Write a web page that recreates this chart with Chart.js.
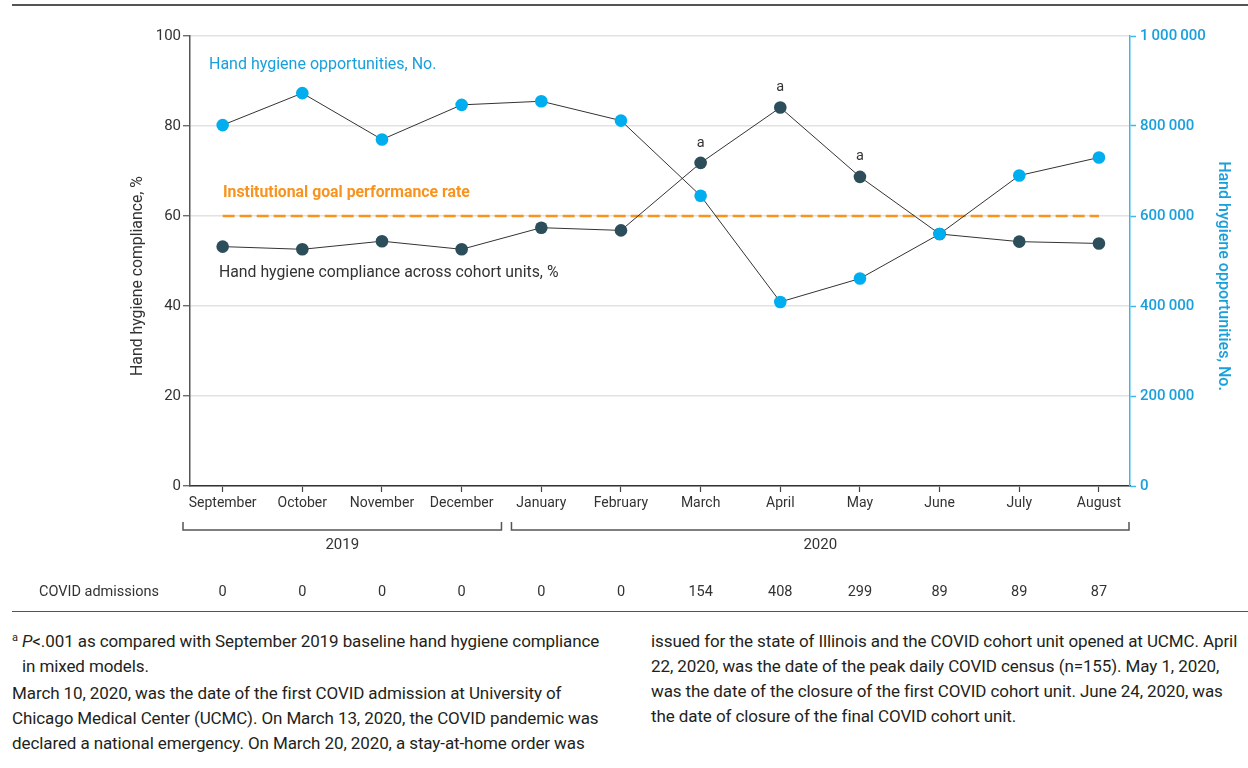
<!DOCTYPE html>
<html>
<head>
<meta charset="utf-8">
<script src="https://cdn.jsdelivr.net/npm/chart.js@4/dist/chart.umd.min.js"></script>
<style>
  html, body { margin: 0; padding: 0; background: #fff; }
  #wrap { position: relative; width: 1248px; height: 768px; overflow: hidden; }
  #c { position: absolute; left: 0; top: 0; }
  .rule { position: absolute; left: 12px; right: 0; height: 0; border-top: 2px solid #555; }
  .note { position: absolute; font-family: Roboto, sans-serif; font-size: 17px; color: #231f20;
          line-height: 25px; white-space: nowrap; letter-spacing: -0.1px; }
  .note sup { font-size: 11px; vertical-align: 6px; line-height: 0; }
  .note p { margin: 0; }
</style>
</head>
<body>
<div id="wrap">
  <canvas id="c" width="1248" height="612"></canvas>
  <div class="rule" style="top:4px"></div>
  <div class="rule" style="top:611px; border-top-width:1.5px"></div>
  <div class="note" style="left:12px; top:629px">
    <p><sup>a</sup> <i>P</i>&lt;.001 as compared with September 2019 baseline hand hygiene compliance</p>
    <p style="padding-left:10px">in mixed models.</p>
    <p style="margin-top:2px">March 10, 2020, was the date of the first COVID admission at University of</p>
    <p>Chicago Medical Center (UCMC). On March 13, 2020, the COVID pandemic was</p>
    <p>declared a national emergency. On March 20, 2020, a stay-at-home order was</p>
  </div>
  <div class="note" style="left:651px; top:629px">
    <p>issued for the state of Illinois and the COVID cohort unit opened at UCMC. April</p>
    <p>22, 2020, was the date of the peak daily COVID census (n=155). May 1, 2020,</p>
    <p>was the date of the closure of the first COVID cohort unit. June 24, 2020, was</p>
    <p>the date of closure of the final COVID cohort unit.</p>
  </div>
</div>
<script>
// Monthly categories, September 2019 through August 2020
const months = ['September', 'October', 'November', 'December', 'January', 'February',
                'March', 'April', 'May', 'June', 'July', 'August'];

// Hand hygiene compliance across cohort units, %
const complianceRate = [53.2, 52.6, 54.4, 52.6, 57.4, 56.8, 71.8, 84.1, 68.7, 56.0, 54.3, 53.9];

// Hand hygiene opportunities, No.
const opportunities = [802000, 873000, 770000, 847000, 855000, 812000,
                       645000, 409000, 461000, 560000, 690000, 730000];

// Institutional goal performance rate, %
const goalRate = 60;

// COVID admissions per month
const covidAdmissions = [0, 0, 0, 0, 0, 0, 154, 408, 299, 89, 89, 87];

// Months flagged with footnote a (P<.001 vs September 2019 baseline)
const significantMonths = ['March', 'April', 'May'];

// Year groupings under the month axis
const yearLabels = ['2019', '2020'];
const yearFirstMonth = [0, 4];
const yearLastMonth = [3, 11];

// Axis tick values
const complianceTicks = [0, 20, 40, 60, 80, 100];
const opportunityTicks = [0, 200000, 400000, 600000, 800000, 1000000];

const FONT = 'Roboto, "Noto Sans", sans-serif';
const DARK_TEXT = '#333333';
const BLUE_TEXT = '#19a0dc';
const BLUE_AXIS = '#3bb9e9';
const ORANGE = '#f7931e';

const toPoints = vals => vals.map((v, i) => ({ x: i, y: v }));
const groupThousands = v => Math.round(v).toString().replace(/\B(?=(\d{3})+(?!\d))/g, '\u2009');

const annotations = {
  id: 'annotations',
  afterDatasetsDraw(chart) {
    const { ctx, chartArea, scales } = chart;
    const xs = scales.x, ys = scales.y;
    ctx.save();

    // Series labels inside the plot
    ctx.textBaseline = 'middle';
    ctx.textAlign = 'left';
    ctx.font = `16px ${FONT}`;
    ctx.fillStyle = BLUE_TEXT;
    ctx.fillText('Hand hygiene opportunities, No.', 209, 65);
    ctx.font = `bold 15.8px ${FONT}`;
    ctx.fillStyle = ORANGE;
    ctx.fillText('Institutional goal performance rate', 223, 193);
    ctx.font = `15.8px ${FONT}`;
    ctx.fillStyle = DARK_TEXT;
    ctx.fillText('Hand hygiene compliance across cohort units, %', 219, 273);

    // Footnote markers above the significant compliance points
    ctx.textAlign = 'center';
    ctx.font = `14.5px ${FONT}`;
    significantMonths.forEach(m => {
      const i = months.indexOf(m);
      ctx.fillText('a', xs.getPixelForValue(i), ys.getPixelForValue(complianceRate[i]) - 20);
    });

    // Axis titles
    ctx.save();
    ctx.translate(138, 276);
    ctx.rotate(-Math.PI / 2);
    ctx.font = `15.8px ${FONT}`;
    ctx.fillStyle = DARK_TEXT;
    ctx.fillText('Hand hygiene compliance, %', 0, 0);
    ctx.restore();

    ctx.save();
    ctx.translate(1223, 276);
    ctx.rotate(Math.PI / 2);
    ctx.font = `500 16px ${FONT}`;
    ctx.fillStyle = BLUE_TEXT;
    ctx.fillText('Hand hygiene opportunities, No.', 0, 0);
    ctx.restore();

    // Year brackets and labels
    const split = xs.getPixelForValue(3.5);
    const bTop = 522, bBot = 530;
    ctx.strokeStyle = '#555';
    ctx.lineWidth = 1.5;
    yearLabels.forEach((label, k) => {
      const left = yearFirstMonth[k] === 0 ? chartArea.left - 7 : split + 10;
      const right = yearLastMonth[k] === months.length - 1 ? chartArea.right - 1 : split;
      ctx.beginPath();
      ctx.moveTo(left, bTop);
      ctx.lineTo(left, bBot);
      ctx.lineTo(right, bBot);
      ctx.lineTo(right, bTop);
      ctx.stroke();
      ctx.fillStyle = DARK_TEXT;
      ctx.font = `15px ${FONT}`;
      ctx.fillText(label, (left + right) / 2, 545);
    });

    // COVID admissions row
    ctx.font = `14.5px ${FONT}`;
    ctx.textAlign = 'left';
    ctx.fillText('COVID admissions', 39, 592);
    ctx.textAlign = 'center';
    covidAdmissions.forEach((n, i) => {
      ctx.fillText(String(n), xs.getPixelForValue(i), 592);
    });

    ctx.restore();
  }
};

new Chart(document.getElementById('c'), {
  type: 'line',
  data: {
    datasets: [
      {
        label: 'Hand hygiene opportunities, No.',
        data: toPoints(opportunities),
        yAxisID: 'y2',
        borderColor: '#333',
        borderWidth: 1,
        pointRadius: 6.3,
        pointHoverRadius: 6.3,
        pointBorderWidth: 0,
        pointBackgroundColor: '#00aeef',
        order: 0
      },
      {
        label: 'Hand hygiene compliance across cohort units, %',
        data: toPoints(complianceRate),
        yAxisID: 'y',
        borderColor: '#333',
        borderWidth: 1,
        pointRadius: 6.3,
        pointHoverRadius: 6.3,
        pointBorderWidth: 0,
        pointBackgroundColor: '#2c4e5b',
        order: 1
      },
      {
        label: 'Institutional goal performance rate',
        data: months.map((m, i) => ({ x: i, y: goalRate })),
        yAxisID: 'y',
        borderColor: ORANGE,
        borderWidth: 2.5,
        borderDash: [12, 5],
        pointRadius: 0,
        order: 2
      }
    ]
  },
  options: {
    responsive: false,
    animation: false,
    events: [],
    layout: { padding: { top: 36, left: 0, right: 0, bottom: 0 } },
    plugins: { legend: { display: false }, tooltip: { enabled: false } },
    scales: {
      x: {
        type: 'linear',
        min: -0.41,
        max: 11.39,
        afterBuildTicks: s => { s.ticks = months.map((m, i) => ({ value: i })); },
        afterFit: s => { s.height = 126; },
        ticks: {
          callback: v => months[v],
          autoSkip: false, maxRotation: 0,
          color: DARK_TEXT, font: { family: FONT, size: 14 }, padding: 3
        },
        grid: { drawOnChartArea: false, tickLength: 6, tickColor: '#444', tickWidth: 1.2 },
        border: { color: '#333', width: 1.5 }
      },
      y: {
        position: 'left',
        min: 0, max: 100,
        afterBuildTicks: s => { s.ticks = complianceTicks.map(v => ({ value: v })); },
        afterFit: s => { s.width = 190; },
        ticks: { color: DARK_TEXT, font: { family: FONT, size: 15 }, padding: 2 },
        grid: { color: '#e2e2e2', lineWidth: 1.5, tickLength: 7, tickColor: '#555', tickWidth: 1.2 },
        border: { color: '#555', width: 1.5 }
      },
      y2: {
        position: 'right',
        min: 0, max: 1000000,
        afterBuildTicks: s => { s.ticks = opportunityTicks.map(v => ({ value: v })); },
        afterFit: s => { s.width = 118; },
        ticks: {
          callback: v => groupThousands(v),
          color: BLUE_TEXT, font: { family: FONT, size: 15, weight: '500' }, padding: 4
        },
        grid: { drawOnChartArea: false, tickLength: 6, tickColor: BLUE_AXIS, tickWidth: 1.5 },
        border: { color: BLUE_AXIS, width: 1.5 }
      }
    }
  },
  plugins: [annotations]
});
</script>
</body>
</html>
